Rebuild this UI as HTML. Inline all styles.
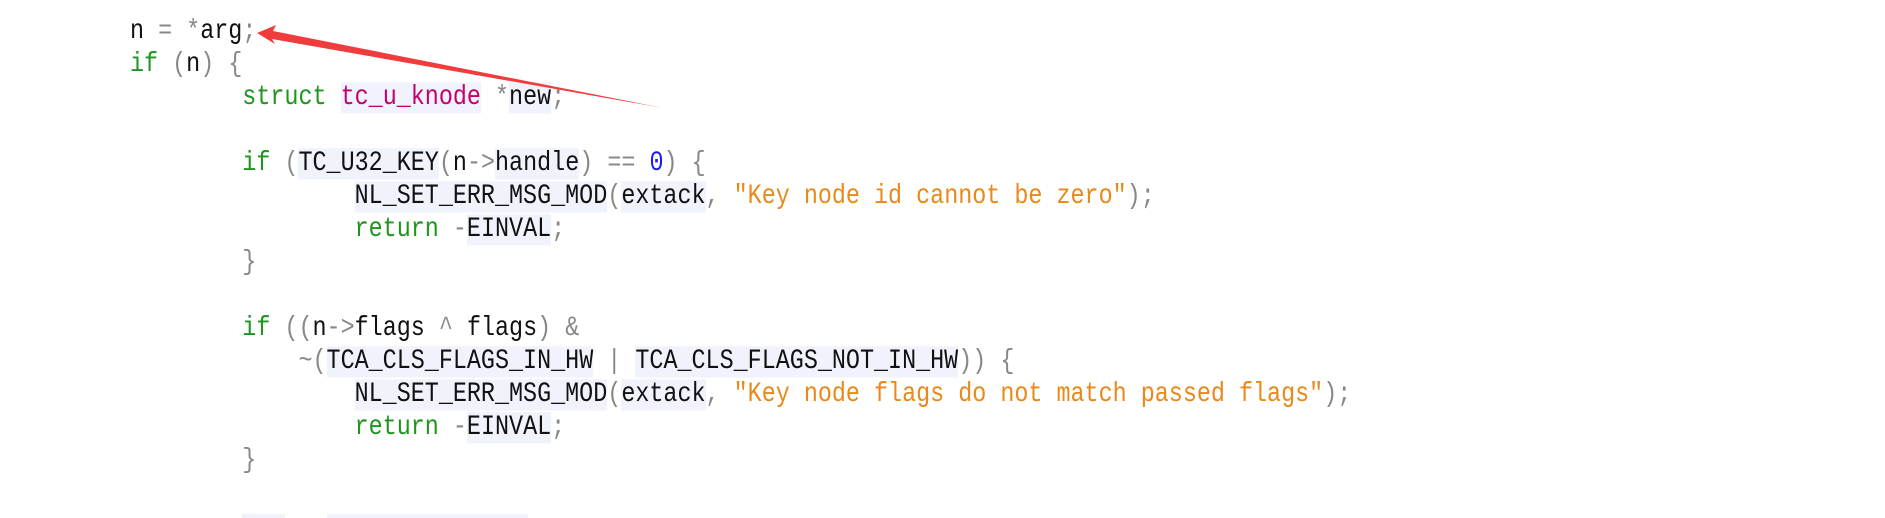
<!DOCTYPE html>
<html><head><meta charset="utf-8"><style>
html,body{margin:0;padding:0;background:#fff;width:1885px;height:518px;overflow:hidden;position:relative}
.l{position:absolute;left:130px;height:33px;line-height:33px;white-space:pre;font-family:"Liberation Mono",monospace;font-size:23.4px;color:#111;transform:scaleY(1.2);transform-origin:0 50%}
.g{color:#1f951f}.m{color:#c4006f}.o{color:#e8891a}.b{color:#1a1aff}.p{color:#888}
.h{background:#f1f3fc}
</style></head><body>
<div class="l" style="top:16px">n <span class="p">=</span> <span class="p">*</span>arg<span class="p">;</span></div>
<div class="l" style="top:49px"><span class="g">if</span> <span class="p">(</span>n<span class="p">)</span> <span class="p">{</span></div>
<div class="l" style="top:82px">        <span class="g">struct</span> <span class="m h">tc_u_knode</span> <span class="p">*</span><span class="h">new</span><span class="p">;</span></div>
<div class="l" style="top:148px">        <span class="g">if</span> <span class="p">(</span><span class="h">TC_U32_KEY</span><span class="p">(</span>n<span class="p">-&gt;</span><span class="h">handle</span><span class="p">)</span> <span class="p">==</span> <span class="b">0</span><span class="p">)</span> <span class="p">{</span></div>
<div class="l" style="top:181px">                <span class="h">NL_SET_ERR_MSG_MOD</span><span class="p">(</span><span class="h">extack</span><span class="p">,</span> <span class="o">"Key node id cannot be zero"</span><span class="p">);</span></div>
<div class="l" style="top:214px">                <span class="g">return</span> <span class="p">-</span><span class="h">EINVAL</span><span class="p">;</span></div>
<div class="l" style="top:247px">        <span class="p">}</span></div>
<div class="l" style="top:313px">        <span class="g">if</span> <span class="p">((</span>n<span class="p">-&gt;</span>flags <span class="p">^</span> flags<span class="p">)</span> <span class="p">&amp;</span></div>
<div class="l" style="top:346px">            <span class="p">~(</span><span class="h">TCA_CLS_FLAGS_IN_HW</span> <span class="p">|</span> <span class="h">TCA_CLS_FLAGS_NOT_IN_HW</span><span class="p">))</span> <span class="p">{</span></div>
<div class="l" style="top:379px">                <span class="h">NL_SET_ERR_MSG_MOD</span><span class="p">(</span><span class="h">extack</span><span class="p">,</span> <span class="o">"Key node flags do not match passed flags"</span><span class="p">);</span></div>
<div class="l" style="top:412px">                <span class="g">return</span> <span class="p">-</span><span class="h">EINVAL</span><span class="p">;</span></div>
<div class="l" style="top:445px">        <span class="p">}</span></div>
<div style="position:absolute;left:242px;top:514px;width:43px;height:6px;background:#f1f3fc"></div>
<div style="position:absolute;left:327px;top:514px;width:201px;height:6px;background:#f1f3fc"></div>
<svg width="1885" height="518" style="position:absolute;left:0;top:0">
<polygon points="257,33 276,25 273,31 663,108 272,39 275,44" fill="#f03c3c"/>
</svg>
</body></html>
